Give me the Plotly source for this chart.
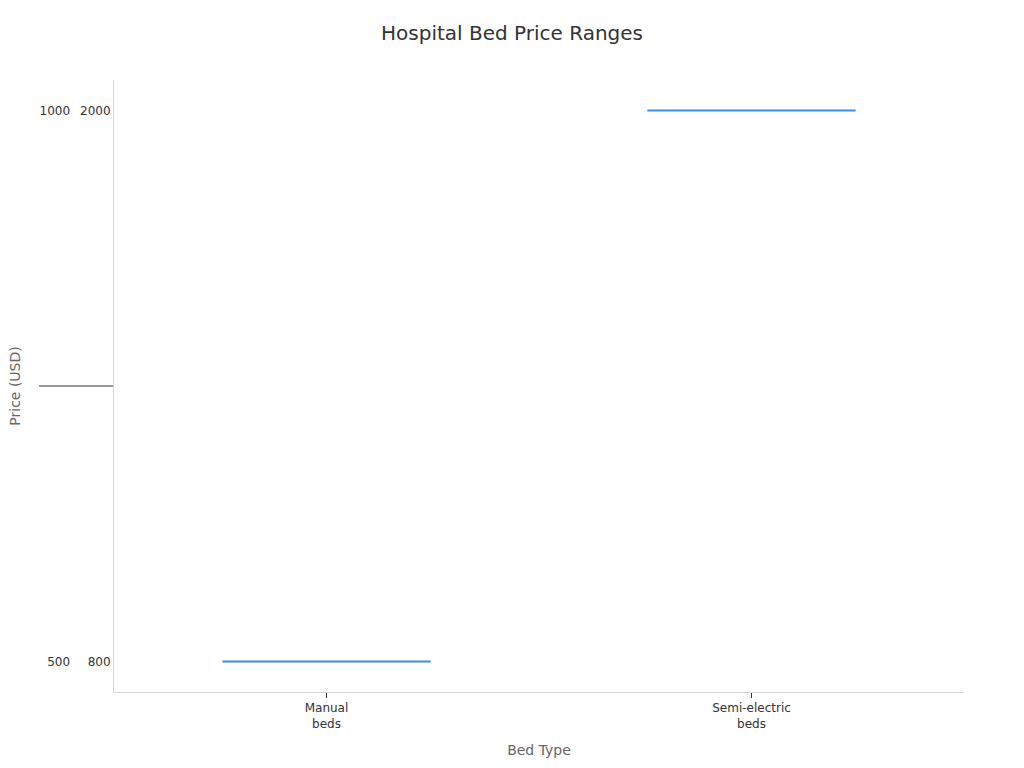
import plotly.graph_objects as go

# bed types on the x axis
bed_types = ["Manual<br>beds", "Semi-electric<br>beds"]

# price ranges, read as a two level category axis (low, high)
price_low = ["500", "1000"]
price_high = ["800", "2000"]


def make_figure():
    fig = go.Figure()

    trace_box = go.Box(x=bed_types,
                       y=[price_low, price_high],
                       name='Price range',
                       line=dict(color='#3b8fe6', width=2),
                       fillcolor='rgba(59,143,230,0.5)',
                       boxpoints=False,
                       showlegend=False)
    fig.add_trace(trace_box)

    fig.update_layout(
        width=1024,
        height=768,
        font=dict(family='DejaVu Sans', color='#333333'),
        title=dict(text='Hospital Bed Price Ranges', x=0.5, xanchor='center',
                   y=1 - 33 / 768, yanchor='middle',
                   font=dict(size=20, color='#333333')),
        plot_bgcolor='white',
        paper_bgcolor='white',
        margin=dict(l=114, r=60, t=80, b=76),
        showlegend=False,
    )
    fig.update_xaxes(title=dict(text='Bed Type', font=dict(size=14, color='#666666')),
                     showline=True, linecolor='#d6d6d6', linewidth=1,
                     showgrid=False, zeroline=False,
                     ticks='outside', ticklen=5, tickcolor='#333333',
                     tickfont=dict(size=12, color='#333333'))
    fig.update_yaxes(title=dict(text='Price (USD)', font=dict(size=14, color='#666666')),
                     type='multicategory',
                     showline=True, linecolor='#d6d6d6', linewidth=1,
                     showgrid=False, zeroline=False,
                     showdividers=True, dividercolor='#999999', dividerwidth=2,
                     tickfont=dict(size=12, color='#333333'))
    return fig


def main():
    fig = make_figure()
    # page sits flush with the window corner
    fig.write_html("out.html",
                   config=dict(displayModeBar=False),
                   post_script="document.body.style.margin='0';")


if __name__ == '__main__':
    main()
